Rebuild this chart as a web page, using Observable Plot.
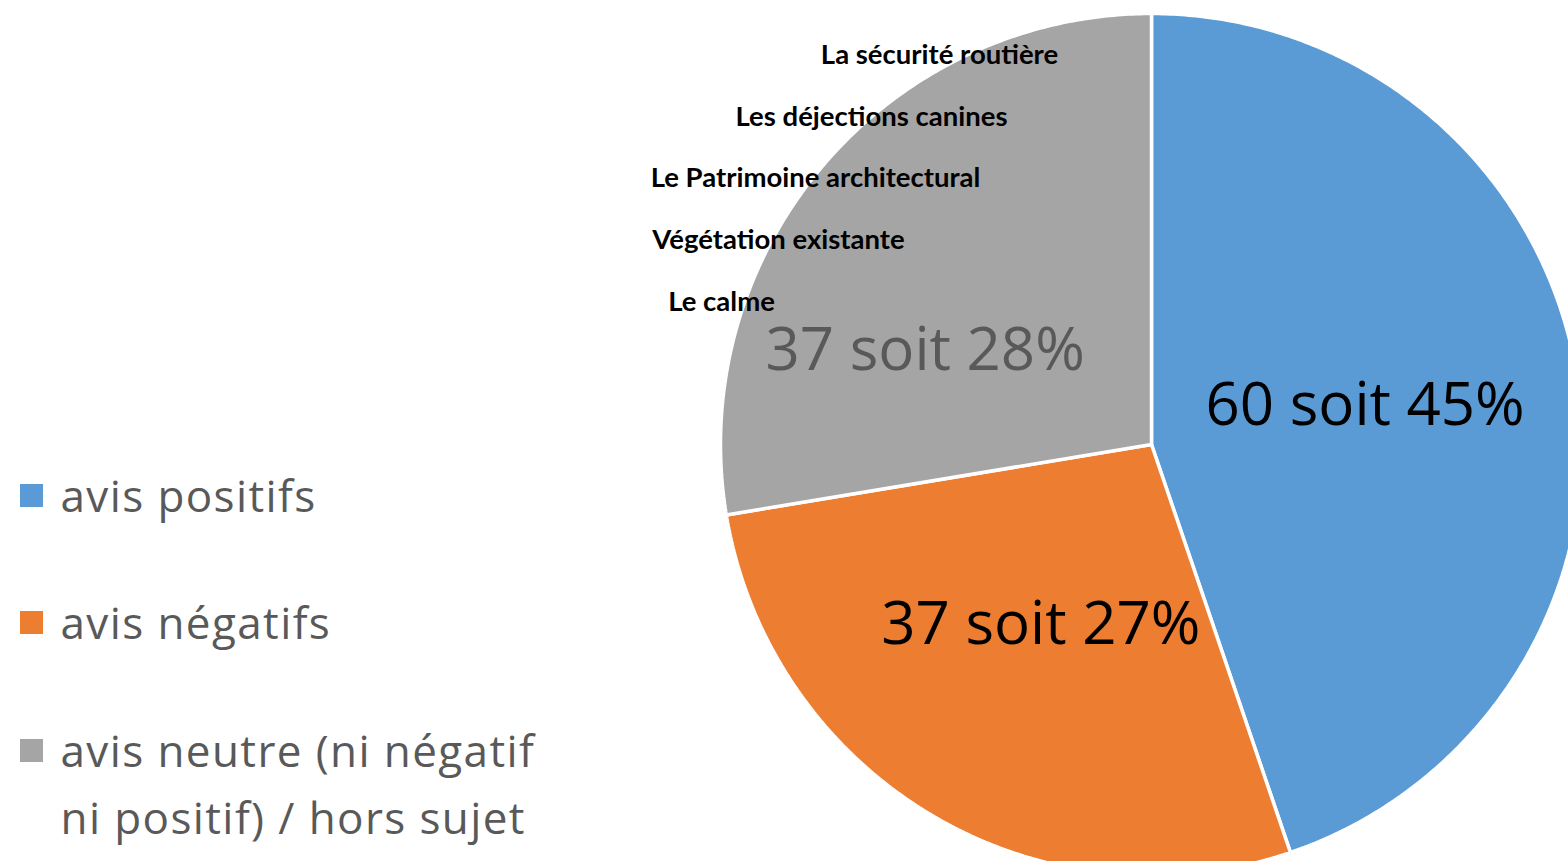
<!DOCTYPE html>
<html>
<head>
<meta charset="utf-8">
<script src="https://cdn.jsdelivr.net/npm/d3@7"></script>
<script src="https://cdn.jsdelivr.net/npm/@observablehq/plot@0.6"></script>
<style>
  html, body { margin: 0; padding: 0; background: #fff; overflow: hidden; }
  #chart svg { display: block; }
</style>
</head>
<body>
<div id="chart"></div>
<script>
// ---- Data ----
const categories = ["avis positifs", "avis négatifs", "avis neutre (ni négatif ni positif) / hors sujet"];
const counts = [60, 37, 37];
const percents = [45, 27, 28];
const colors = ["#5B9BD5", "#ED7D31", "#A5A5A5"];
const themes = ["La sécurité routière", "Les déjections canines", "Le Patrimoine architectural", "Végétation existante", "Le calme"];

// ---- Layout ----
const W = 1568, H = 861;
const cx = 1151, cy = 444, R = 431;
const labelOffsets = [[1, -3], [0, -5], [-62, 46]];
const labelColors = ["#000000", "#000000", "#595959"];
const themePos = [[939, 55], [871, 117], [815, 178], [778, 240], [721, 302]];
const legendY = [495, 622, 750];
const legendTextShift = -5;
const legendLineH = 67;

// pie geometry from data
const arcs = d3.pie().sort(null).value(d => d)(counts);
const slicePts = [];
arcs.forEach((a, i) => {
  const steps = Math.max(2, Math.ceil((a.endAngle - a.startAngle) / (Math.PI / 360)));
  slicePts.push({i, x: cx, y: cy});
  for (let k = 0; k <= steps; k++) {
    const t = a.startAngle + (a.endAngle - a.startAngle) * k / steps;
    slicePts.push({i, x: cx + R * Math.sin(t), y: cy - R * Math.cos(t)});
  }
  slicePts.push({i, x: cx, y: cy});
});

const valueLabels = arcs.map((a, i) => {
  const m = (a.startAngle + a.endAngle) / 2;
  return {
    text: `${counts[i]} soit ${percents[i]}%`,
    x: cx + 0.5 * R * Math.sin(m) + labelOffsets[i][0],
    y: cy - 0.5 * R * Math.cos(m) + labelOffsets[i][1],
    color: labelColors[i]
  };
});

const themeLabels = themes.map((t, i) => ({text: t, x: themePos[i][0], y: themePos[i][1]}));

const legendItems = categories.map((c, i) => {
  const text = i === 2 ? "avis neutre (ni négatif\nni positif) / hors sujet" : c;
  const lines = text.split("\n").length;
  return {text, color: colors[i], sy: legendY[i], ty: legendY[i] + legendTextShift + (lines - 1) * legendLineH / 2};
});

const chart = Plot.plot({
  width: W,
  height: H,
  margin: 0,
  x: {domain: [0, W], range: [0, W], axis: null},
  y: {domain: [0, H], range: [0, H], axis: null},
  style: {background: "#fff"},
  marks: [
    Plot.line(slicePts, {
      x: "x", y: "y", z: "i",
      fill: d => colors[d.i],
      stroke: "#ffffff", strokeWidth: 3.5, strokeLinejoin: "miter", curve: "linear"
    }),
    Plot.text(valueLabels, {
      x: "x", y: "y", text: "text", fill: d => d.color,
      fontSize: 60, fontFamily: "'Open Sans', 'Noto Sans', sans-serif", textAnchor: "middle"
    }),
    Plot.text(themeLabels, {
      x: "x", y: "y", text: "text", fill: "#000",
      fontSize: 27.5, fontWeight: "bold", fontFamily: "Lato, 'Open Sans', sans-serif", textAnchor: "middle"
    }),
    Plot.dot(legendItems, {
      x: () => 31, y: "sy", symbol: "square", r: 13, fill: "color", stroke: null
    }),
    Plot.text(legendItems, {
      x: () => 60, y: "ty", text: "text", fill: "#595959",
      fontSize: 44, lineHeight: legendLineH / 44, fontFamily: "'Open Sans', 'Noto Sans', sans-serif", textAnchor: "start"
    })
  ]
});
// slightly wider tracking for the legend text, like the original rendering
d3.select(chart).selectAll('g[font-size="44"]').style("letter-spacing", "1.4px");
document.getElementById("chart").appendChild(chart);
</script>
</body>
</html>
